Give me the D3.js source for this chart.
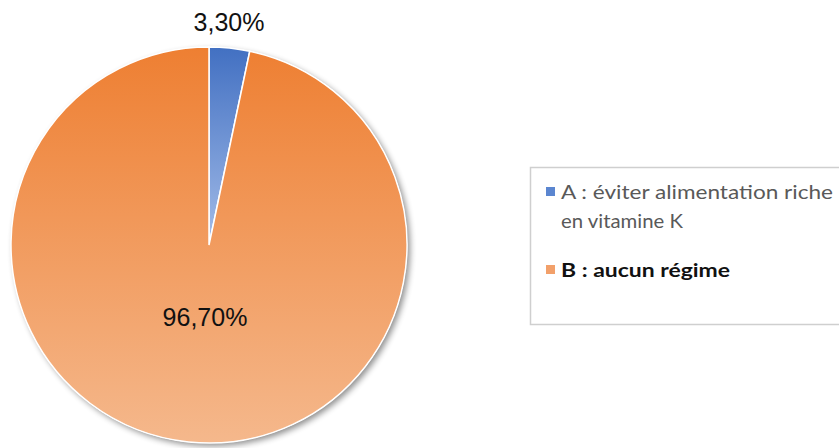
<!DOCTYPE html>
<html>
<head>
<meta charset="utf-8">
<script src="https://cdn.jsdelivr.net/npm/d3@7"></script>
<style>
  body { margin: 0; background: #fff; }
  svg { display: block; }
</style>
</head>
<body>
<svg id="chart" width="839" height="448"></svg>
<script>
// data
var categories = ['A : éviter alimentation riche en vitamine K', 'B : aucun régime'];
var values = [3.3, 96.7];
var labels = ['3,30%', '96,70%'];

var svg = d3.select('#chart');
var cx = 209, cy = 245, r = 198;

var defs = svg.append('defs');
var grads = [['#4270c2', '#a3bce8'], ['#ee7f32', '#f5b88c']];
grads.forEach(function(g, i){
  var lg = defs.append('linearGradient')
    .attr('id', 'g' + i)
    .attr('gradientUnits', i === 0 ? 'objectBoundingBox' : 'userSpaceOnUse')
    .attr('x1', 0).attr('x2', 0)
    .attr('y1', i === 0 ? 0 : -r).attr('y2', i === 0 ? 1 : r);
  lg.append('stop').attr('offset', '0%').attr('stop-color', g[0]);
  lg.append('stop').attr('offset', '100%').attr('stop-color', g[1]);
});
var f = defs.append('filter').attr('id', 'shadow')
  .attr('x', '-10%').attr('y', '-10%').attr('width', '130%').attr('height', '130%');
f.append('feGaussianBlur').attr('in', 'SourceAlpha').attr('stdDeviation', 3);
f.append('feOffset').attr('dx', 3).attr('dy', 3).attr('result', 'b');
f.append('feComponentTransfer').append('feFuncA').attr('type', 'linear').attr('slope', 0.45);
var m = f.append('feMerge');
m.append('feMergeNode');
m.append('feMergeNode').attr('in', 'SourceGraphic');

var pie = d3.pie().sort(null).value(function(d){ return d; });
var arc = d3.arc().innerRadius(0).outerRadius(r);
var arcs = pie(values);

var g = svg.append('g').attr('transform', 'translate(' + cx + ',' + cy + ')');
g.append('circle').attr('r', r).attr('fill', '#fff').attr('filter', 'url(#shadow)');
g.selectAll('path.slice').data(arcs).enter().append('path')
  .attr('class', 'slice')
  .attr('d', arc)
  .attr('fill', function(d, i){ return 'url(#g' + i + ')'; })
  .attr('stroke', '#fff')
  .attr('stroke-width', 1.5);

// labels
var lblPos = [[20, -214], [-4, 81]];
g.selectAll('text.lbl').data(arcs).enter().append('text')
  .attr('class', 'lbl')
  .attr('x', function(d, i){ return lblPos[i][0]; })
  .attr('y', function(d, i){ return lblPos[i][1]; })
  .attr('text-anchor', 'middle')
  .style('font-family', '"Liberation Sans", Arial, sans-serif')
  .style('font-size', '25px')
  .style('fill', '#111')
  .text(function(d, i){ return labels[i]; });

// legend
var leg = svg.append('g');
leg.append('rect').attr('x', 530.5).attr('y', 167.5).attr('width', 330).attr('height', 157)
  .attr('fill', '#fff').attr('stroke', '#cfcfcf').attr('stroke-width', 1.5);
var legColors = ['#5b86d0', '#f2a06a'];
var legY = [187, 265];
legColors.forEach(function(c, i){
  leg.append('rect').attr('x', 546).attr('y', legY[i]).attr('width', 9).attr('height', 9).attr('fill', c);
});
var font = 'Lato, "Open Sans", sans-serif';
leg.append('text').attr('x', 561).attr('y', 199)
  .attr('textLength', 272).attr('lengthAdjust', 'spacingAndGlyphs')
  .style('font-family', font).style('font-size', '19px').style('fill', '#595959')
  .text('A : éviter alimentation riche');
leg.append('text').attr('x', 561).attr('y', 228)
  .attr('textLength', 122).attr('lengthAdjust', 'spacingAndGlyphs')
  .style('font-family', font).style('font-size', '19px').style('fill', '#595959')
  .text('en vitamine K');
leg.append('text').attr('x', 561).attr('y', 277)
  .attr('textLength', 169).attr('lengthAdjust', 'spacingAndGlyphs')
  .style('font-family', font).style('font-size', '19px').style('font-weight', 'bold').style('fill', '#111')
  .text(categories[1]);
</script>
</body>
</html>
